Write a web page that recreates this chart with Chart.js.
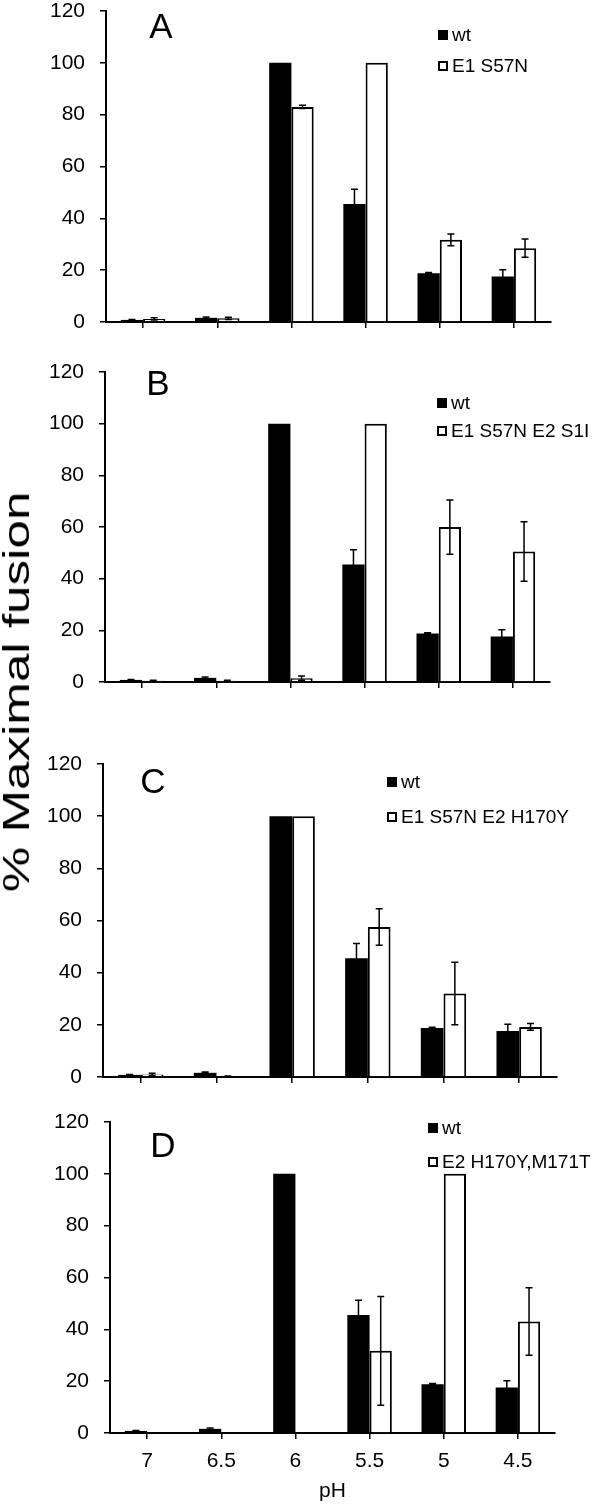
<!DOCTYPE html>
<html>
<head>
<meta charset="utf-8">
<script src="https://cdn.jsdelivr.net/npm/chart.js@4/dist/chart.umd.min.js"></script>
<style>
  html, body { margin: 0; padding: 0; background: #fff; }
  #wrap { position: relative; width: 600px; height: 1504px; overflow: hidden; }
  .panel { position: absolute; left: 0; width: 600px; }
  #ytitle { position: absolute; left: 17px; top: 692px; white-space: nowrap;
    font-family: 'Liberation Sans', Arial, sans-serif; font-size: 36px; color: #000;
    transform: translate(-50%, -50%) rotate(-90deg) scaleX(1.42); }
</style>
</head>
<body>
<div id="wrap">
  <div class="panel" id="pA" style="top:0px;height:345px"><canvas id="cA"></canvas></div>
  <div class="panel" id="pB" style="top:345px;height:385px"><canvas id="cB"></canvas></div>
  <div class="panel" id="pC" style="top:730px;height:370px"><canvas id="cC"></canvas></div>
  <div class="panel" id="pD" style="top:1100px;height:404px"><canvas id="cD"></canvas></div>
  <div id="ytitle">% Maximal fusion</div>
</div>
<script>
// ---- data ----
const categories = ['7', '6.5', '6', '5.5', '5', '4.5'];
const yTicks = [0, 20, 40, 60, 80, 100, 120];
const wtLabel = 'wt';
const wtValues = [0.8, 1.6, 100, 45.5, 18.8, 17.6];
const wtErrors = [0.2, 0.3, 0, 5.7, 0.3, 2.6];

const labelA = 'E1 S57N';
const valuesA = [1.2, 1.4, 83, 100, 31.7, 28.5];
const errorsA = [0.4, 0.4, 0.6, 0, 2.3, 3.5];

const labelB = 'E1 S57N E2 S1I';
const valuesB = [0.5, 0.5, 1.5, 100, 60, 50.5];
const errorsB = [0.2, 0.2, 0.8, 0, 10.5, 11.5];

const labelC = 'E1 S57N E2 H170Y';
const valuesC = [1.0, 0.3, 100, 57.5, 32, 19.2];
const errorsC = [0.4, 0.1, 0, 7, 12, 1.3];

const labelD = 'E2 H170Y,M171T';
const valuesD = [0, 0.2, 0.2, 31.7, 100, 43];
const errorsD = [0, 0, 0, 21, 0, 13];

const xTitle = 'pH';

// ---- style / layout ----
const FONT = "'Liberation Sans', Arial, sans-serif";
Chart.defaults.font.family = FONT;
Chart.defaults.color = '#000';

const errorBars = {
  id: 'errorBars',
  afterDatasetsDraw(chart) {
    const ctx = chart.ctx, ys = chart.scales.y;
    chart.data.datasets.forEach((ds, di) => {
      const meta = chart.getDatasetMeta(di);
      meta.data.forEach((bar, i) => {
        const e = ds.errors ? ds.errors[i] : 0;
        if (!e) return;
        const v = ds.data[i];
        const top = ys.getPixelForValue(v + e);
        const bot = ys.getPixelForValue(Math.max(0, v - e));
        ctx.save();
        ctx.strokeStyle = '#000';
        ctx.lineWidth = 1.5;
        ctx.beginPath();
        ctx.moveTo(bar.x, top); ctx.lineTo(bar.x, bot);
        ctx.moveTo(bar.x - 3.5, top); ctx.lineTo(bar.x + 3.5, top);
        ctx.moveTo(bar.x - 3.5, bot); ctx.lineTo(bar.x + 3.5, bot);
        ctx.stroke();
        ctx.restore();
      });
    });
  }
};

const decor = {
  id: 'decor',
  afterDraw(chart, args, o) {
    const ctx = chart.ctx;
    ctx.save();
    ctx.fillStyle = '#000';
    ctx.font = '35px ' + FONT;
    ctx.textAlign = 'center';
    ctx.textBaseline = 'middle';
    ctx.fillText(o.letter, o.lx, o.ly);
    ctx.font = '19px ' + FONT;
    ctx.textAlign = 'left';
    const ds = chart.data.datasets;
    const rows = [o.y1, o.y2];
    ds.forEach((d, i) => {
      const y = rows[i];
      if (i === 0) {
        ctx.fillStyle = '#000';
        ctx.fillRect(o.sx, y - 5, 10, 10);
      } else {
        ctx.fillStyle = '#fff';
        ctx.fillRect(o.sx, y - 5, 10, 10);
        ctx.strokeStyle = '#000';
        ctx.lineWidth = 2;
        ctx.strokeRect(o.sx + 1, y - 4, 8, 8);
      }
      ctx.fillStyle = '#000';
      ctx.fillText(d.label, o.sx + 14, y + 1);
    });
    ctx.restore();
  }
};

function makeChart(canvasId, mutLabel, mutValues, mutErrors, L) {
  return new Chart(document.getElementById(canvasId), {
    type: 'bar',
    data: {
      labels: categories,
      datasets: [
        { label: wtLabel, data: wtValues, errors: wtErrors,
          backgroundColor: '#000', borderColor: '#000', borderWidth: 0,
          categoryPercentage: 0.6, barPercentage: 1.0 },
        { label: mutLabel, data: mutValues, errors: mutErrors,
          backgroundColor: '#fff', borderColor: '#000', borderWidth: 2,
          categoryPercentage: 0.6, barPercentage: 1.0 }
      ]
    },
    options: {
      responsive: true,
      maintainAspectRatio: false,
      animation: false,
      events: [],
      layout: { padding: { top: L.padTop, right: L.padRight, left: 0, bottom: 0 } },
      plugins: {
        legend: { display: false },
        tooltip: { enabled: false },
        decor: L.decor
      },
      scales: {
        x: {
          offset: true,
          grid: { display: true, drawOnChartArea: false, offset: false, drawTicks: true,
                  tickLength: 6, color: '#000', lineWidth: 1.5 },
          border: { display: true, color: '#000', width: 2 },
          ticks: { display: L.showX, font: { size: 21 }, color: '#000', padding: 10,
                   maxRotation: 0, autoSkip: false },
          title: { display: L.showX, text: xTitle, font: { size: 21 }, color: '#000',
                   padding: { top: 0, bottom: 0 } },
          afterFit(s) { s.height = L.xHeight; s.paddingLeft = 0; s.paddingRight = 0; }
        },
        y: {
          min: 0, max: 120,
          afterBuildTicks(s) { s.ticks = yTicks.map(v => ({ value: v })); },
          grid: { display: true, drawOnChartArea: false, drawTicks: true, tickLength: 6,
                  color: '#000', lineWidth: 1.5 },
          border: { display: true, color: '#000', width: 2 },
          ticks: { font: { size: 21 }, color: '#000', padding: 15 },
          afterFit(s) { s.width = L.yWidth; s.paddingTop = 0; s.paddingBottom = 0; }
        }
      }
    },
    plugins: [errorBars, decor]
  });
}

makeChart('cA', labelA, valuesA, errorsA, {
  padTop: 11, padRight: 49, yWidth: 106, xHeight: 23, showX: false,
  decor: { letter: 'A', lx: 161, ly: 28, sx: 438, y1: 35, y2: 66 }
});
makeChart('cB', labelB, valuesB, errorsB, {
  padTop: 27, padRight: 50, yWidth: 105, xHeight: 48, showX: false,
  decor: { letter: 'B', lx: 158, ly: 40, sx: 437, y1: 58, y2: 86 }
});
makeChart('cC', labelC, valuesC, errorsC, {
  padTop: 34, padRight: 43, yWidth: 103, xHeight: 23, showX: false,
  decor: { letter: 'C', lx: 153, ly: 53, sx: 387, y1: 52, y2: 87 }
});
makeChart('cD', labelD, valuesD, errorsD, {
  padTop: 22, padRight: 45, yWidth: 110, xHeight: 71, showX: true,
  decor: { letter: 'D', lx: 163, ly: 47, sx: 428, y1: 28, y2: 62 }
});
</script>
</body>
</html>
